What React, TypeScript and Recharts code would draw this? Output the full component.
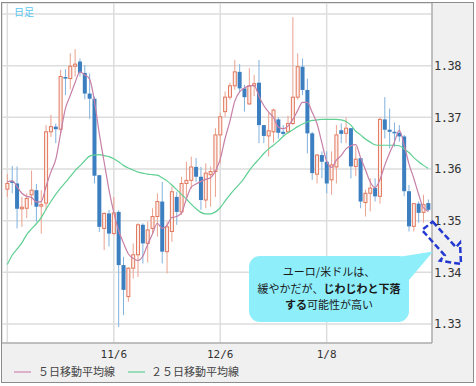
import { ComposedChart, Bar, Line, XAxis, YAxis, CartesianGrid } from "recharts";

// daily EUR/USD candles, Oct 7 -> Feb 5 (88 sessions)
const open = [
  1.3561, 1.3577, 1.3572, 1.3523, 1.3524, 1.355, 1.3559, 1.3528, 1.3534, 1.3672,
  1.3682, 1.3677, 1.3778, 1.3775, 1.3799, 1.3808, 1.3786, 1.3746, 1.3736, 1.3588,
  1.3485, 1.3514, 1.3475, 1.3517, 1.3414, 1.3353, 1.3408, 1.3434, 1.3492, 1.3456,
  1.3485, 1.3508, 1.3537, 1.344, 1.3479, 1.3546, 1.3517, 1.3572, 1.3578, 1.3604,
  1.3585, 1.354, 1.3589, 1.3595, 1.3666, 1.3711, 1.3739, 1.3761, 1.3788, 1.3756,
  1.3726, 1.3761, 1.3767, 1.3685, 1.3664, 1.3672, 1.3696, 1.3672, 1.3672, 1.3688,
  1.3739, 1.3798, 1.3753, 1.3669, 1.359, 1.3627, 1.3614, 1.3579, 1.3604, 1.3675,
  1.3669, 1.3679, 1.3605, 1.3621, 1.3535, 1.3553, 1.3563, 1.3547, 1.3696, 1.3676,
  1.3672, 1.367, 1.3663, 1.3557, 1.3489, 1.3533, 1.3516, 1.3534,
];
const high = [
  1.359, 1.3606, 1.3605, 1.3546, 1.3553, 1.3597, 1.3571, 1.3559, 1.3685, 1.3705,
  1.3688, 1.3792, 1.3793, 1.3824, 1.3832, 1.3814, 1.3801, 1.3785, 1.374, 1.3588,
  1.3516, 1.3521, 1.3546, 1.352, 1.343, 1.341, 1.3456, 1.3495, 1.3495, 1.3498,
  1.3524, 1.3553, 1.3575, 1.3498, 1.3566, 1.3556, 1.3585, 1.3614, 1.3624, 1.3621,
  1.3604, 1.3611, 1.3605, 1.3679, 1.3709, 1.375, 1.3767, 1.3811, 1.3803, 1.3763,
  1.3795, 1.3782, 1.3811, 1.3685, 1.3708, 1.3717, 1.37, 1.3685, 1.3703, 1.3894,
  1.3824, 1.3814, 1.3775, 1.3672, 1.3629, 1.3634, 1.3634, 1.3634, 1.3685, 1.3688,
  1.37, 1.3679, 1.3643, 1.3621, 1.356, 1.3582, 1.3582, 1.37, 1.3739, 1.3717,
  1.369, 1.3685, 1.3666, 1.3569, 1.3533, 1.3537, 1.355, 1.3541,
];
const low = [
  1.3546, 1.3553, 1.3485, 1.3488, 1.3505, 1.353, 1.3498, 1.3475, 1.352, 1.3662,
  1.365, 1.3669, 1.3743, 1.3754, 1.3779, 1.3779, 1.3735, 1.3697, 1.3572, 1.3478,
  1.3443, 1.345, 1.3473, 1.3294, 1.3317, 1.3343, 1.3388, 1.3391, 1.3417, 1.3419,
  1.3475, 1.3469, 1.3417, 1.3398, 1.3459, 1.3492, 1.3511, 1.3546, 1.3562, 1.3575,
  1.3521, 1.3524, 1.3527, 1.3546, 1.3611, 1.3701, 1.3734, 1.3753, 1.3748, 1.3711,
  1.3724, 1.3741, 1.365, 1.365, 1.3624, 1.3651, 1.3659, 1.3663, 1.3669, 1.3685,
  1.3734, 1.3743, 1.363, 1.3579, 1.3572, 1.3582, 1.3553, 1.355, 1.3572, 1.365,
  1.365, 1.3582, 1.3586, 1.3524, 1.3508, 1.3518, 1.3537, 1.3533, 1.3659, 1.364,
  1.3643, 1.3653, 1.3547, 1.3479, 1.3479, 1.3496, 1.3496, 1.3518,
];
const close = [
  1.3572, 1.3573, 1.3523, 1.3526, 1.3543, 1.3559, 1.3527, 1.3531, 1.3672, 1.3682,
  1.3677, 1.3779, 1.3775, 1.3799, 1.3803, 1.3786, 1.3746, 1.3736, 1.3587, 1.3488,
  1.3514, 1.3475, 1.3515, 1.3414, 1.3366, 1.3408, 1.3434, 1.3492, 1.3456, 1.3482,
  1.3508, 1.3537, 1.344, 1.3488, 1.3556, 1.3517, 1.3572, 1.3578, 1.3604, 1.3585,
  1.354, 1.3592, 1.3595, 1.3666, 1.3701, 1.3739, 1.3761, 1.3788, 1.3756, 1.3739,
  1.3761, 1.3765, 1.3685, 1.3664, 1.3674, 1.3714, 1.367, 1.3668, 1.3688, 1.3739,
  1.3798, 1.3753, 1.3669, 1.3592, 1.3627, 1.3614, 1.3572, 1.3608, 1.3666, 1.3668,
  1.3679, 1.3605, 1.3619, 1.3537, 1.3553, 1.3563, 1.3547, 1.3696, 1.3676, 1.3672,
  1.3669, 1.3663, 1.3557, 1.3489, 1.3533, 1.3515, 1.3531, 1.3521,
];
const ma5 = [
  1.3575, 1.3577, 1.3566, 1.3553, 1.3547, 1.3545, 1.3536, 1.3537, 1.3566, 1.3594,
  1.3618, 1.3668, 1.3717, 1.3742, 1.3767, 1.3788, 1.3782, 1.3774, 1.3732, 1.3669,
  1.3614, 1.356, 1.3516, 1.3481, 1.3457, 1.3436, 1.3427, 1.3423, 1.3431, 1.3454,
  1.3474, 1.3495, 1.3485, 1.3491, 1.3506, 1.3508, 1.3515, 1.3542, 1.3565, 1.3571,
  1.3576, 1.358, 1.3583, 1.3596, 1.3619, 1.3659, 1.3692, 1.3731, 1.3749, 1.3757,
  1.3761, 1.3762, 1.3741, 1.3723, 1.371, 1.37, 1.3681, 1.3678, 1.3683, 1.3696,
  1.3713, 1.3729, 1.3729, 1.371, 1.3688, 1.3651, 1.3615, 1.3603, 1.3617, 1.3626,
  1.3639, 1.3645, 1.3647, 1.3622, 1.3599, 1.3575, 1.3564, 1.3579, 1.3607, 1.3631,
  1.3652, 1.3675, 1.3647, 1.361, 1.3582, 1.3551, 1.3525, 1.3518,
];
const ma25 = [
  1.3415, 1.3433, 1.3445, 1.3457, 1.3473, 1.3484, 1.3494, 1.3506, 1.3522, 1.3537,
  1.3551, 1.3563, 1.3574, 1.3585, 1.3597, 1.3606, 1.3616, 1.3625, 1.3627, 1.3628,
  1.3626, 1.3624, 1.362, 1.3614, 1.3607, 1.3602, 1.3598, 1.3594, 1.3592, 1.359,
  1.3589, 1.3588, 1.3583, 1.3577, 1.3569, 1.356, 1.3551, 1.3542, 1.3532, 1.3523,
  1.3516, 1.3513, 1.3513, 1.3517, 1.3525, 1.3538, 1.355, 1.3561, 1.3571, 1.3583,
  1.3597, 1.3609, 1.3619, 1.363, 1.3639, 1.3646, 1.3654, 1.3663, 1.367, 1.3676,
  1.3682, 1.3687, 1.3691, 1.3694, 1.3695, 1.3696, 1.3696, 1.3696, 1.3696, 1.3695,
  1.3692, 1.3685, 1.3673, 1.3666, 1.3658, 1.3652, 1.3647, 1.3646, 1.3646, 1.3646,
  1.3646, 1.3645, 1.3639, 1.3632, 1.3622, 1.3614, 1.3607, 1.3601,
];

const tickIndex = [0, 22, 44, 66];
const tickLabels = ["", "11/6", "12/6", "1/8"];
const yTicks = [1.33, 1.34, 1.35, 1.36, 1.37, 1.38, 1.39];

const rows = close.map((c, i) => ({
  i,
  o: open[i],
  h: high[i],
  l: low[i],
  c,
  ma5: ma5[i],
  ma25: ma25[i],
}));

const MONO = "'DejaVu Sans Mono', monospace";
const JP = "'Noto Sans CJK JP', sans-serif";

function Candle(props: any) {
  const { x, y, width, height, payload } = props;
  if (x == null || !payload) return null;
  const { o, h, l, c } = payload;
  const top = Math.min(y, y + height);
  const span = Math.abs(height);
  const py = (p: number) => top + ((h - p) / (h - l)) * span;
  const cx = x + width / 2;
  const up = c >= o;
  const bTop = py(Math.max(o, c));
  const bh = Math.max(py(Math.min(o, c)) - bTop, 1);
  return (
    <g>
      <line
        x1={cx}
        x2={cx}
        y1={top}
        y2={top + span}
        stroke={up ? "#eba28f" : "#80b2de"}
        strokeWidth={1}
      />
      {up ? (
        <rect x={cx - 1.5} y={bTop} width={3} height={bh} fill="#fcefeb" stroke="#e2785d" strokeWidth={1} />
      ) : (
        <rect x={cx - 2} y={bTop} width={4} height={bh} fill="#3c7fc0" />
      )}
    </g>
  );
}

export default function App() {
  return (
    <div style={{ position: "absolute", left: 0, top: 0, width: 476, height: 386, background: "#fff" }}>
      <div style={{ position: "absolute", left: 1, top: 2, width: 473, height: 381, background: "#f0f0f0" }} />
      <div style={{ position: "absolute", left: 0, top: 0 }}>
        <ComposedChart width={476} height={386} data={rows} margin={{ top: 3, right: 2, bottom: 3, left: 2 }}>
          <CartesianGrid stroke="#dddddd" strokeWidth={1.5} fill="#ffffff" fillOpacity={1} />
          <XAxis
            dataKey="i"
            type="category"
            ticks={tickIndex}
            tickFormatter={(v: number) => tickLabels[tickIndex.indexOf(v)] ?? ""}
            interval={0}
            height={40}
            padding={{ left: 2.9, right: 1.3 }}
            axisLine={{ stroke: "#9a9a9a" }}
            tickLine={false}
            tickSize={0}
            tickMargin={7}
            tick={{ fill: "#333", fontSize: 11, fontFamily: MONO }}
          />
          <YAxis
            orientation="right"
            width={42}
            type="number"
            domain={[1.32632, 1.39213]}
            allowDataOverflow
            ticks={yTicks}
            interval={0}
            tickFormatter={(v: number) => (v > 1.385 ? "" : v.toFixed(2))}
            axisLine={{ stroke: "#9a9a9a" }}
            tickLine={false}
            tickSize={0}
            tickMargin={2}
            tick={{ fill: "#333", fontSize: 12, fontFamily: MONO, letterSpacing: -0.5 }}
          />
          <Bar dataKey={(d: any) => [d.l, d.h]} shape={(p: any) => <Candle {...p} />} isAnimationActive={false} />
          <Line
            dataKey="ma25"
            type="monotone"
            stroke="#5fcf92"
            strokeWidth={1.2}
            dot={false}
            activeDot={false}
            isAnimationActive={false}
          />
          <Line
            dataKey="ma5"
            type="monotone"
            stroke="#c67fa6"
            strokeWidth={1.2}
            dot={false}
            activeDot={false}
            isAnimationActive={false}
          />
        </ComposedChart>
      </div>
      <svg
        width={476}
        height={386}
        style={{ position: "absolute", left: 0, top: 0, pointerEvents: "none" }}
      >
        <rect x={1.5} y={2.5} width={472} height={380} fill="none" stroke="#8c8c8c" strokeWidth={1} />
        <text x={14} y={16} fontSize={10} fill="#5cc6ee" fontFamily={JP}>
          日足
        </text>

        {/* legend */}
        <line x1={14} x2={31} y1={372} y2={372} stroke="#d49bbb" strokeWidth={1.5} />
        <text x={38} y={376} fontSize={11} fill="#444" fontFamily={JP}>
          ５日移動平均線
        </text>
        <line x1={128} x2={145} y1={372} y2={372} stroke="#7dd6a6" strokeWidth={1.5} />
        <text x={151} y={376} fontSize={11} fill="#444" fontFamily={JP}>
          ２５日移動平均線
        </text>

        {/* callout */}
        <rect x={249} y={256} width={160} height={66} rx={11} fill="#8eeefa" />
        <polygon points="398,257 433,251.5 409,280" fill="#8eeefa" />
        <g fontFamily={JP} fontSize={11} fill="#1a1a1a" textAnchor="middle">
          <text x={329} y={276}>ユーロ/米ドルは、</text>
          <text x={329} y={292.5}>
            緩やかだが、<tspan fontWeight="bold">じわじわと下落</tspan>
          </text>
          <text x={329} y={309}>
            <tspan fontWeight="bold">する</tspan>可能性が高い
          </text>
        </g>

        {/* dashed arrow */}
        <polygon
          points="432.7,221.7 456,247.3 460,242.7 461,264 440,260.7 444.7,255.3 422,230"
          fill="none"
          stroke="#2339cf"
          strokeWidth={2.5}
          strokeDasharray="6 3"
          strokeLinejoin="miter"
        />
      </svg>
    </div>
  );
}
